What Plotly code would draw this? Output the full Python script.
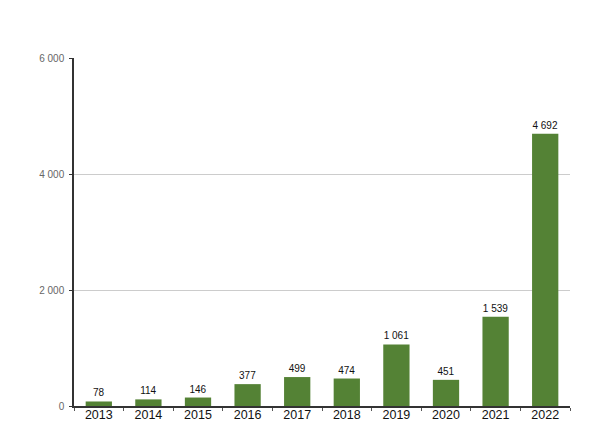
import plotly.graph_objects as go

years = ["2013", "2014", "2015", "2016", "2017", "2018", "2019", "2020", "2021", "2022"]
values = [78, 114, 146, 377, 499, 474, 1061, 451, 1539, 4692]
y_ticks = [0, 2000, 4000, 6000]

fig = go.Figure(go.Bar(
    x=years, y=values,
    marker=dict(color="#548235", line=dict(width=0)),
    texttemplate="%{y:,}", textposition="outside",
    textfont=dict(family="Liberation Sans, Arial", size=10, color="#111"),
    cliponaxis=False,
))

fig.update_layout(
    width=589, height=426,
    margin=dict(l=66, r=27, t=50, b=23),
    paper_bgcolor="white", plot_bgcolor="white",
    separators=". ",
    bargap=0.47,
    showlegend=False,
    font=dict(family="Liberation Sans, Arial"),
)
fig.update_xaxes(
    type="category",
    showline=True, linecolor="#333", linewidth=1.5,
    ticks="outside", tickson="boundaries", ticklen=3, tickcolor="#555",
    tickfont=dict(size=12.5, color="#111"),
    ticklabelstandoff=-4,
    showgrid=False,
)
fig.update_yaxes(
    range=[0, 6000], tickvals=y_ticks, tickformat=",d",
    showline=True, linecolor="#333", linewidth=1.5,
    ticks="outside", ticklen=3, tickcolor="#333",
    tickfont=dict(size=10, color="#666"),
    ticklabelstandoff=3,
    showgrid=True, gridcolor="#cccccc", gridwidth=1,
    zeroline=False,
)

fig.write_html("out.html")
